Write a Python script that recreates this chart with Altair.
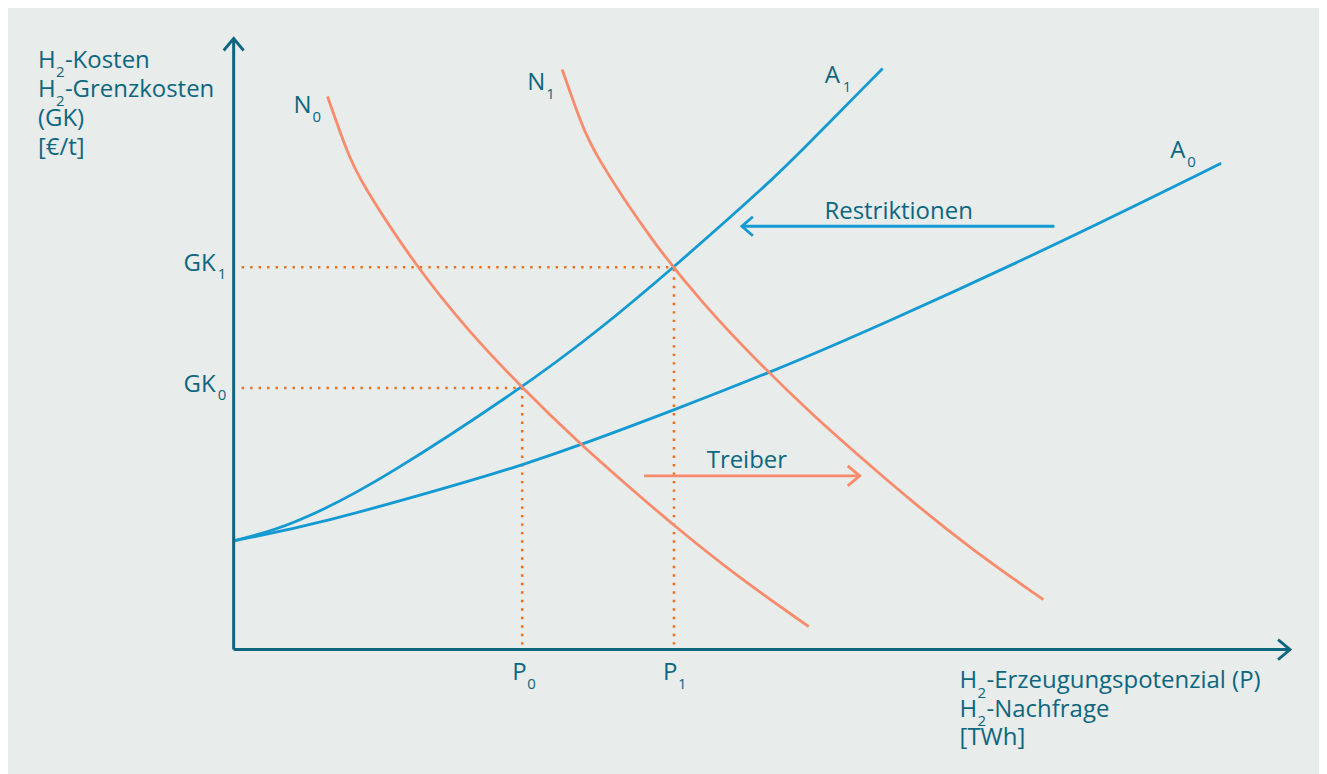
import altair as alt
import pandas as pd

BG = "#e8ecea"
TEAL = "#0d6680"
BLUE = "#139ad2"
SALMON = "#f88b6c"
ORANGE = "#e8711f"
FONT = "Open Sans"

W, H = 1313, 766
X_DOMAIN = [-22.6, 108.7]
Y_DOMAIN = [(650 - (8 + H)) / 10, 64.2]

# ---- curves (arbitrary units) ----
a0_x = [0.0, 8.6, 24.1, 28.9, 34.8, 44.1, 53.6, 64.6, 82.3, 98.9]
a0_y = [10.9, 12.6, 17.0, 18.5, 20.5, 24.0, 27.7, 32.4, 40.5, 48.7]

a1_x = [0.0, 4.0, 8.6, 14.8, 28.9, 36.6, 44.1, 53.9, 56.6, 65.0]
a1_y = [10.9, 11.9, 13.8, 17.0, 26.2, 32.0, 38.3, 47.0, 49.7, 58.2]

n0_x = [9.4, 11.3, 12.6, 18.3, 23.6, 28.9, 34.8, 38.8, 44.1, 50.6, 57.6]
n0_y = [55.4, 50.0, 47.0, 38.3, 31.8, 26.2, 20.5, 17.0, 12.4, 7.2, 2.3]

n1_x = [32.9, 34.8, 36.1, 41.8, 47.1, 52.4, 58.3, 62.3, 67.6, 74.1, 81.1]
n1_y = [58.1, 52.7, 49.7, 41.0, 34.5, 28.9, 23.2, 19.7, 15.1, 9.9, 5.0]

# equilibria
p_vals = [28.9, 44.1]
gk_vals = [26.2, 38.3]

# axes extents
x_axis_end = 105.8
y_axis_end = 61.2

# shift arrows
restr_from, restr_to, restr_y = 82.2, 50.9, 42.4
treib_from, treib_to, treib_y = 41.1, 62.7, 17.4

# ---- texts ----
main_txt = ["H", "-Kosten", "H", "-Grenzkosten", "(GK)", "[€/t]",
            "H", "-Erzeugungspotenzial (P)", "H", "-Nachfrage", "[TWh]",
            "P", "P", "N", "N", "A", "A"]
main_x = [-19.6, -16.9, -19.6, -16.9, -19.6, -19.6,
          72.7, 75.4, 72.7, 75.4, 72.7,
          27.9, 43.0, 6.0, 29.4, 59.2, 93.8]
main_y = [58.2, 58.2, 55.3, 55.3, 52.4, 49.5,
          -3.8, -3.8, -6.7, -6.7, -9.6,
          -3.0, -3.0, 53.7, 56.0, 56.7, 49.2]

sub_txt = ["2", "2", "2", "2", "0", "1", "0", "1", "1", "0", "1", "0"]
sub_x = [-17.8, -17.8, 74.5, 74.5, 29.4, 44.5, 7.9, 31.3, 61.0, 95.5, -1.6, -1.6]
sub_y = [57.3, 54.4, -4.8, -7.7, -3.9, -3.9, 52.8, 55.1, 55.8, 48.3, 37.1, 25.0]

gk_txt = ["GK", "GK"]
gk_x = [-1.8, -1.8]
gk_y = [37.9, 25.8]

arrow_txt = ["Restriktionen", "Treiber"]
arrow_txt_x = [66.6, 51.4]
arrow_txt_y = [43.15, 18.2]

# ---- tables ----
rows = []
for name, col, xs, ys in [("A0", BLUE, a0_x, a0_y), ("A1", BLUE, a1_x, a1_y),
                          ("N0", SALMON, n0_x, n0_y), ("N1", SALMON, n1_x, n1_y)]:
    for i, (xv, yv) in enumerate(zip(xs, ys)):
        rows.append({"curve": name, "col": col, "o": i, "x": xv, "y": yv})
curves = pd.DataFrame(rows)

xs_scale = alt.Scale(domain=X_DOMAIN, nice=False, zero=False)
ys_scale = alt.Scale(domain=Y_DOMAIN, nice=False, zero=False)
X = lambda f="x": alt.X(f"{f}:Q", scale=xs_scale, axis=None)
Y = lambda f="y": alt.Y(f"{f}:Q", scale=ys_scale, axis=None)

curve_layer = alt.Chart(curves).mark_line(
    interpolate="basis", strokeWidth=2.8, strokeCap="butt"
).encode(
    x=X(), y=Y(),
    color=alt.Color("col:N", scale=None),
    detail="curve:N", order="o:Q",
)

# dotted guides
dots = pd.DataFrame(
    [{"x": 0.8, "x2": p, "y": g, "y2": g} for p, g in zip(p_vals, gk_vals)] +
    [{"x": p, "x2": p, "y": 0.5, "y2": g} for p, g in zip(p_vals, gk_vals)]
)
dot_layer = alt.Chart(dots).mark_rule(
    strokeWidth=2.6, strokeDash=[2.4, 6.1]
).encode(x=X(), x2="x2:Q", y=Y(), y2="y2:Q", color=alt.value(ORANGE))

# axes
axes = pd.DataFrame([
    {"x": 0, "x2": 0, "y": 0, "y2": y_axis_end},
    {"x": 0, "x2": x_axis_end, "y": 0, "y2": 0},
])
axis_layer = alt.Chart(axes).mark_rule(strokeWidth=3).encode(
    x=X(), x2="x2:Q", y=Y(), y2="y2:Q", color=alt.value(TEAL))

# arrow heads and shift arrows as polylines
heads = []
def add(gid, col, pts):
    for i, (xv, yv) in enumerate(pts):
        heads.append({"g": gid, "col": col, "o": i, "x": xv, "y": yv})

add("yax", TEAL, [(-1.0, y_axis_end - 1.2), (0, y_axis_end), (1.0, y_axis_end - 1.2)])
add("xax", TEAL, [(x_axis_end - 1.2, 1.0), (x_axis_end, 0), (x_axis_end - 1.2, -1.0)])
add("restr", BLUE, [(restr_from, restr_y), (restr_to, restr_y)])
add("restrh", BLUE, [(restr_to + 1.1, restr_y + 0.95), (restr_to, restr_y), (restr_to + 1.1, restr_y - 0.95)])
add("treib", SALMON, [(treib_from, treib_y), (treib_to, treib_y)])
add("treibh", SALMON, [(treib_to - 1.2, treib_y + 1.0), (treib_to, treib_y), (treib_to - 1.2, treib_y - 1.0)])
heads = pd.DataFrame(heads)

head_layer = alt.Chart(heads).mark_line(strokeWidth=2.8, strokeJoin="miter").encode(
    x=X(), y=Y(),
    color=alt.Color("col:N", scale=None),
    detail="g:N", order="o:Q",
)

main_df = pd.DataFrame({"t": main_txt, "x": main_x, "y": main_y})
sub_df = pd.DataFrame({"t": sub_txt, "x": sub_x, "y": sub_y})
gk_df = pd.DataFrame({"t": gk_txt, "x": gk_x, "y": gk_y})
arr_df = pd.DataFrame({"t": arrow_txt, "x": arrow_txt_x, "y": arrow_txt_y})

txt_kw = dict(font=FONT, baseline="alphabetic")
def tl(df, align, size):
    return alt.Chart(df).mark_text(align=align, fontSize=size, **txt_kw).encode(
        x=X(), y=Y(), text="t:N", color=alt.value(TEAL))

chart = alt.layer(
    dot_layer, curve_layer, axis_layer, head_layer,
    tl(main_df, "left", 24), tl(sub_df, "left", 15),
    tl(gk_df, "right", 24), tl(arr_df, "center", 24),
).properties(
    width=W, height=H, background=BG, padding=0,
    autosize=alt.AutoSizeParams(type="none"),
).configure_view(stroke=None, fill=BG)

chart.save("out.html", embed_options={"renderer": "svg", "actions": False})
